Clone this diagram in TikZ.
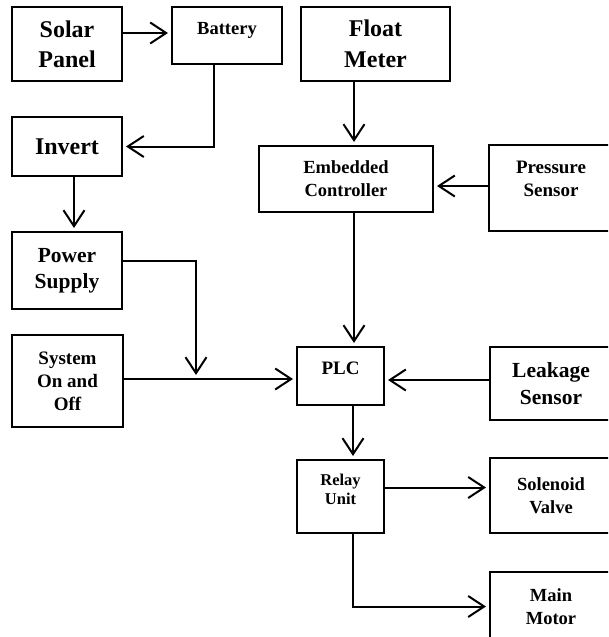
\documentclass[tikz,border=0pt]{standalone}
\usepackage{fontspec}
\setmainfont{Liberation Serif}
\usetikzlibrary{arrows.meta}
\newcommand{\fsz}[2]{\bfseries\fontsize{#1}{#2}\selectfont}
\tikzset{
  box/.style={draw, line width=2pt, inner sep=0pt, outer sep=0pt, anchor=north west, align=center},
  txt/.style={inner sep=0pt, outer sep=0pt, align=center},
  arr/.style={line width=2pt, -{Straight Barb[length=16pt,width=21pt,line width=2pt]}, shorten >=4pt},
  ln/.style={line width=2pt}
}
\begin{document}
\begin{tikzpicture}[x=1pt,y=-1pt]
\clip (0,0) rectangle (608,637);
% boxes
\node[box, minimum width=110pt, minimum height=74pt, font={\fsz{24}{30}}] (solar) at (12,7) {Solar\\Panel};
\node[box, minimum width=110pt, minimum height=57pt] (battery) at (172,7) {};
\node[txt, anchor=base, font={\fsz{18.5}{22}}] (batterytxt) at (227,34) {Battery};
\node[box, minimum width=149pt, minimum height=74pt, font={\fsz{24}{31}}] (float) at (301,7) {Float\\Meter};
\node[box, minimum width=110pt, minimum height=59pt, font={\fsz{24}{30}}] (invert) at (12,117) {Invert};
\node[box, minimum width=174pt, minimum height=66pt, font={\fsz{18.5}{23}}] (emb) at (259,146) {Embedded\\Controller};
\node[box, minimum width=123pt, minimum height=86pt] (pressure) at (489,145) {};
\node[txt, font={\fsz{19}{23}}] (pressuretxt) at (551,179) {Pressure\\Sensor};
\node[box, minimum width=110pt, minimum height=77pt, font={\fsz{21.5}{26}}] (power) at (12,232) {Power\\Supply};
\node[box, minimum width=111pt, minimum height=92pt, font={\fsz{19}{23}}] (system) at (12,335) {System\\On and\\Off};
\node[box, minimum width=87pt, minimum height=58pt] (plc) at (297,347) {};
\node[txt, anchor=base, font={\fsz{19}{23}}] (plctxt) at (340.5,374) {PLC};
\node[box, minimum width=122pt, minimum height=73pt, font={\fsz{21.5}{27}}] (leak) at (490,347) {Leakage\\Sensor};
\node[box, minimum width=87pt, minimum height=73pt] (relay) at (297,460) {};
\node[txt, font={\fsz{16.5}{19}}] (relaytxt) at (340.5,489) {Relay\\Unit};
\node[box, minimum width=122pt, minimum height=75pt, font={\fsz{18.5}{23}}] (sol) at (490,458) {Solenoid\\Valve};
\node[box, minimum width=122pt, minimum height=69pt, font={\fsz{18.5}{23}}] (motor) at (490,572) {Main\\Motor};
% connectors
\coordinate (s1) at ([yshift=11pt]solar.east);
\draw[arr] (s1) -- (s1 -| battery.west);
\draw[arr] ([xshift=-13pt]battery.south) |- (invert.east);
\coordinate (i1) at ([xshift=7pt]invert.south);
\draw[arr] (i1) -- (i1 |- power.north);
\coordinate (f1) at ([xshift=8pt]emb.north);
\draw[arr] (f1 |- float.south) -- (f1);
\coordinate (p1) at ([yshift=2pt]pressure.west);
\draw[arr] (p1) -- (p1 -| emb.east);
\coordinate (e1) at ([xshift=8pt]emb.south);
\draw[arr] (e1) -- (e1 |- plc.north);
\coordinate (y1) at ([yshift=2pt]system.east);
\draw[arr] (y1) -- (y1 -| plc.west);
\coordinate (w1) at ([yshift=10pt]power.east);
\coordinate (j1) at (196,0);
\draw[arr] (w1) -| (j1 |- y1);
\coordinate (l1) at ([yshift=3.5pt]leak.west);
\draw[arr] (l1) -- (l1 -| plc.east);
\coordinate (r0) at ([xshift=12.5pt]plc.south);
\draw[arr] (r0) -- (r0 |- relay.north);
\coordinate (r1) at ([yshift=9pt]relay.east);
\draw[arr] (r1) -- (r1 -| sol.west);
\draw[arr] ([xshift=12.5pt]relay.south) |- (motor.west);
\end{tikzpicture}
\end{document}
